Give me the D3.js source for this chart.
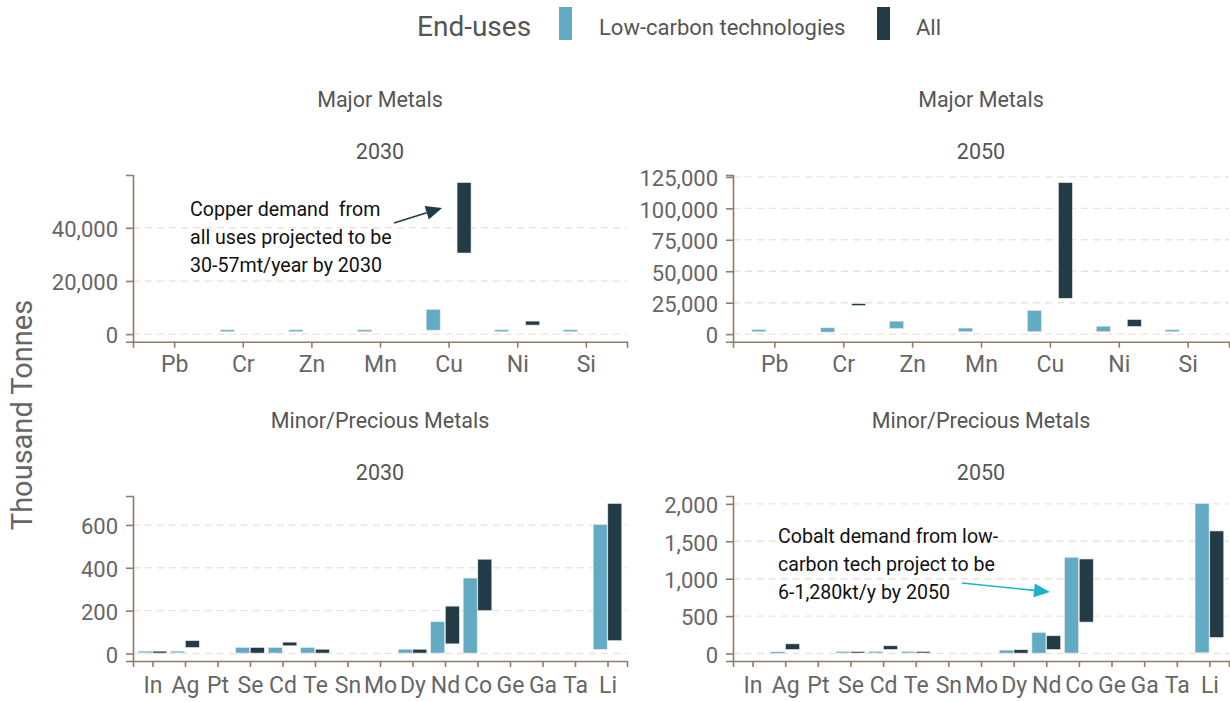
<!DOCTYPE html>
<html>
<head>
<meta charset="utf-8">
<script src="https://cdn.jsdelivr.net/npm/d3@7"></script>
<style>
  body { margin: 0; background: #fff; }
  text { font-family: Roboto, "Liberation Sans", sans-serif; }
</style>
</head>
<body>
<svg id="chart" width="1230" height="702"></svg>
<script>
// categories
const majorMetals = ["Pb", "Cr", "Zn", "Mn", "Cu", "Ni", "Si"];
const minorMetals = ["In", "Ag", "Pt", "Se", "Cd", "Te", "Sn", "Mo", "Dy", "Nd", "Co", "Ge", "Ga", "Ta", "Li"];
const endUses = ["Low-carbon technologies", "All"];

// [low, high] demand in thousand tonnes, null = no data
const major2030Low = [null, [900, 1600], [900, 1600], [900, 1600], [1500, 9300], [900, 1600], [900, 1600]];
const major2030All = [null, null, null, null, [30500, 57000], [3400, 4900], null];
const major2050Low = [[1900, 3600], [1600, 5000], [4500, 10300], [1900, 4800], [1900, 18800], [1900, 6300], [1900, 3400]];
const major2050All = [null, [22700, 24200], null, null, [28500, 120500], [6100, 11600], null];

const minor2030Low = [[3, 11], [3, 11], null, [2, 28], [2, 28], [2, 28], null, null, [2, 20], [2, 148], [2, 352], null, null, null, [19, 602]];
const minor2030All = [[2, 11], [28, 60], null, [2, 28], [36, 53], [2, 20], null, null, [2, 20], [45, 221], [200, 440], null, null, null, [60, 700]];
const minor2050Low = [null, [9, 22], null, [9, 27], [9, 27], [9, 27], null, null, [5, 45], [5, 281], [6, 1286], null, null, null, [10, 2005]];
const minor2050All = [null, [54, 129], null, [9, 27], [54, 103], [9, 27], null, null, [5, 50], [54, 237], [420, 1263], null, null, null, [214, 1638]];

// tick labels
const major2030Ticks = [0, 20000, 40000];
const major2050Ticks = [0, 25000, 50000, 75000, 100000, 125000];
const minor2030Ticks = [0, 200, 400, 600];
const minor2050Ticks = [0, 500, 1000, 1500, 2000];

const colors = { "Low-carbon technologies": "#63abc3", "All": "#233b44" };
const axisColor = "#8f7c6b";
const textColor = "#666";
const gridColor = "#efe3d9";

const svg = d3.select("#chart");

// legend
const legend = svg.append("g");
legend.append("text").attr("x", 417).attr("y", 36)
  .attr("font-size", 28).attr("fill", "#555").text("End-uses");
legend.append("rect").attr("x", 559).attr("y", 7).attr("width", 13).attr("height", 33)
  .attr("fill", colors["Low-carbon technologies"]);
legend.append("text").attr("x", 599).attr("y", 35)
  .attr("font-size", 22).attr("fill", "#555").text(endUses[0]);
legend.append("rect").attr("x", 877).attr("y", 7).attr("width", 13).attr("height", 33)
  .attr("fill", colors["All"]);
legend.append("text").attr("x", 916).attr("y", 35)
  .attr("font-size", 22).attr("fill", "#555").text(endUses[1]);

// y axis title
svg.append("text")
  .attr("transform", "translate(32,415) rotate(-90)")
  .attr("text-anchor", "middle")
  .attr("font-size", 29).attr("fill", textColor)
  .text("Thousand Tonnes");

const panels = [
  { group: "Major Metals", year: "2030", cats: majorMetals, low: major2030Low, all: major2030All, ticks: major2030Ticks,
    x0: 133, x1: 627, y0: 175, y1: 341.7 },
  { group: "Major Metals", year: "2050", cats: majorMetals, low: major2050Low, all: major2050All, ticks: major2050Ticks,
    x0: 733, x1: 1229, y0: 175, y1: 341.7 },
  { group: "Minor/Precious Metals", year: "2030", cats: minorMetals, low: minor2030Low, all: minor2030All, ticks: minor2030Ticks,
    x0: 133, x1: 627, y0: 496, y1: 661 },
  { group: "Minor/Precious Metals", year: "2050", cats: minorMetals, low: minor2050Low, all: minor2050All, ticks: minor2050Ticks,
    x0: 733, x1: 1229, y0: 496, y1: 661 },
];

const barWidth = 14;

panels.forEach((p) => {
  const g = svg.append("g");
  const maxVal = d3.max(p.low.concat(p.all).filter((d) => d), (d) => d[1]);

  const x = d3.scalePoint().domain(p.cats).range([p.x0, p.x1]).padding(0.6);
  const y = d3.scaleLinear().domain([-0.05 * maxVal, 1.05 * maxVal]).range([p.y1, p.y0]);
  const dodge = 0.225 * x.step();

  // strip titles
  const cx = (p.x0 + p.x1) / 2;
  g.append("text").attr("x", cx).attr("y", p.y0 - 68).attr("text-anchor", "middle")
    .attr("font-size", 21.5).attr("fill", "#555").text(p.group);
  g.append("text").attr("x", cx).attr("y", p.y0 - 16).attr("text-anchor", "middle")
    .attr("font-size", 21.5).attr("fill", "#555").text(p.year);

  // dashed gridlines
  g.selectAll(".grid")
    .data(p.ticks)
    .join("line")
    .attr("x1", p.x0).attr("x2", p.x1)
    .attr("y1", (d) => y(d)).attr("y2", (d) => y(d))
    .attr("stroke", gridColor).attr("stroke-width", 1.4)
    .attr("stroke-dasharray", "7,5");

  // bars
  const rows = [];
  p.cats.forEach((c, i) => {
    if (p.low[i]) rows.push({ cat: c, use: endUses[0], lo: p.low[i][0], hi: p.low[i][1], off: -dodge });
    if (p.all[i]) rows.push({ cat: c, use: endUses[1], lo: p.all[i][0], hi: p.all[i][1], off: dodge });
  });
  g.selectAll(".bar")
    .data(rows)
    .join("rect")
    .attr("x", (d) => x(d.cat) + d.off - barWidth / 2)
    .attr("width", barWidth)
    .attr("y", (d) => y(d.hi))
    .attr("height", (d) => Math.max(1.5, y(d.lo) - y(d.hi)))
    .attr("fill", (d) => colors[d.use])
    .attr("stroke", "#e4e8ea").attr("stroke-width", 0.6);

  // axes
  const yAxis = g.append("g").attr("transform", `translate(${p.x0},0)`)
    .call(d3.axisLeft(y).tickValues(p.ticks).tickFormat(d3.format(",")).tickSizeOuter(0).tickSize(7).tickPadding(8));
  const xAxis = g.append("g").attr("transform", `translate(0,${p.y1})`)
    .call(d3.axisBottom(x).tickSizeOuter(0).tickSize(6).tickPadding(p.y1 > 500 ? 10 : 8));

  [yAxis, xAxis].forEach((a) => {
    a.select(".domain").attr("stroke", axisColor).attr("stroke-width", 1.6);
    a.selectAll(".tick line").attr("stroke", axisColor).attr("stroke-width", 1.6);
    a.selectAll("text").attr("fill", textColor).attr("font-family", "Roboto, sans-serif");
  });
  yAxis.selectAll("text").attr("font-size", 22).attr("dy", "0.4em");
  xAxis.selectAll("text").attr("font-size", 23);
});

// annotations
const notes = [
  { lines: ["Copper demand \u00a0from", "all uses projected to be", "30-57mt/year by 2030"], x: 190, y: 216,
    from: [394, 223], to: [442, 208], color: "#1c3c46" },
  { lines: ["Cobalt demand from low-", "carbon tech project to be", "6-1,280kt/y by 2050"], x: 778, y: 543,
    from: [962, 583], to: [1050, 592], color: "#1fb2c9" },
];

notes.forEach((n) => {
  const t = svg.append("text").attr("x", n.x).attr("y", n.y)
    .attr("font-family", "Lato, 'Open Sans', sans-serif").attr("font-size", 19.6).attr("fill", "#111");
  n.lines.forEach((l, i) => {
    t.append("tspan").attr("x", n.x).attr("dy", i === 0 ? 0 : 28).text(l);
  });
  const ang = Math.atan2(n.to[1] - n.from[1], n.to[0] - n.from[0]);
  const headLen = 16, headW = 7;
  const bx = n.to[0] - headLen * Math.cos(ang), by = n.to[1] - headLen * Math.sin(ang);
  svg.append("line")
    .attr("x1", n.from[0]).attr("y1", n.from[1]).attr("x2", bx).attr("y2", by)
    .attr("stroke", n.color).attr("stroke-width", 1.6);
  const px = -Math.sin(ang) * headW, py = Math.cos(ang) * headW;
  svg.append("path")
    .attr("d", `M${n.to[0]},${n.to[1]}L${bx + px},${by + py}L${bx - px},${by - py}Z`)
    .attr("fill", n.color);
});
</script>
</body>
</html>
